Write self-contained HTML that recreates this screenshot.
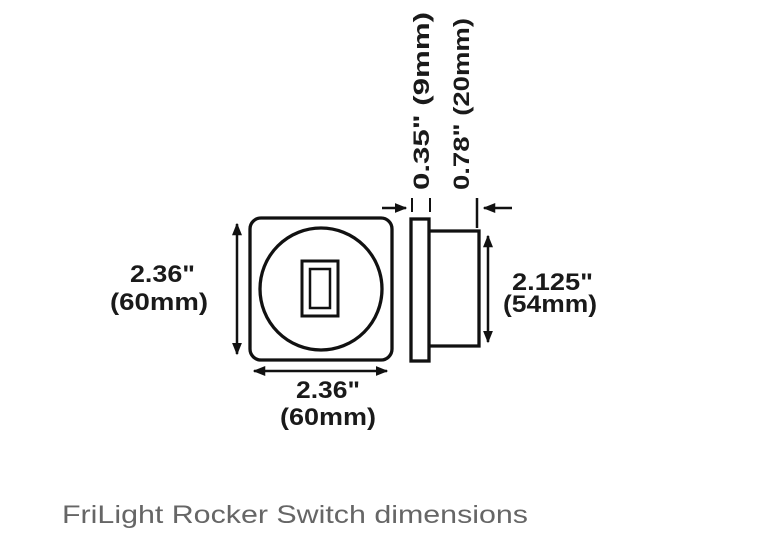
<!DOCTYPE html>
<html><head><style>
html,body{margin:0;padding:0;background:#fff;}
svg{display:block;}
</style></head><body>
<svg width="770" height="546" viewBox="0 0 770 546" xmlns="http://www.w3.org/2000/svg">
<defs>
<marker id="ah" viewBox="0 0 10 10" refX="9" refY="5" markerWidth="5" markerHeight="5" orient="auto-start-reverse" markerUnits="strokeWidth"><path d="M0,1 L10,5 L0,9 Z" fill="#111"/></marker>
</defs>
<g stroke="#111" fill="none" stroke-width="3.3">
<rect x="250" y="218" width="142" height="142" rx="11"/>
<circle cx="321" cy="289" r="61"/>
<rect x="302" y="261" width="36" height="55" stroke-width="3"/>
<rect x="310" y="269" width="20" height="39" stroke-width="2.5"/>
<rect x="411" y="219" width="18" height="142"/>
<path d="M429 231 H479 V346 H429"/>
</g>
<g stroke="#111" stroke-width="2.5" fill="none">
<line x1="237" y1="224" x2="237" y2="354" marker-start="url(#ah)" marker-end="url(#ah)"/>
<line x1="254" y1="371" x2="387" y2="371" marker-start="url(#ah)" marker-end="url(#ah)"/>
<line x1="488" y1="236" x2="488" y2="342" marker-start="url(#ah)" marker-end="url(#ah)"/>
<line x1="382" y1="208" x2="406" y2="208" marker-end="url(#ah)"/>
<line x1="512" y1="208" x2="484" y2="208" marker-end="url(#ah)"/>
<line x1="412" y1="198" x2="412" y2="212" stroke-width="2"/>
<line x1="430" y1="198" x2="430" y2="212" stroke-width="2"/>
<line x1="477" y1="198" x2="477" y2="228" stroke-width="2.5"/>
</g>
<g font-family="Liberation Sans, sans-serif" font-weight="bold" fill="#1a1a1a" font-size="24">
<text x="130" y="282" textLength="65" lengthAdjust="spacingAndGlyphs">2.36"</text>
<text x="110" y="310" textLength="98" lengthAdjust="spacingAndGlyphs">(60mm)</text>
<text x="296" y="398" textLength="64" lengthAdjust="spacingAndGlyphs">2.36"</text>
<text x="280" y="425" textLength="96" lengthAdjust="spacingAndGlyphs">(60mm)</text>
<text x="512" y="290" textLength="81" lengthAdjust="spacingAndGlyphs">2.125"</text>
<text x="503" y="312" textLength="94" lengthAdjust="spacingAndGlyphs">(54mm)</text>
<text transform="translate(429,190) rotate(-90)" font-size="22" textLength="178" lengthAdjust="spacingAndGlyphs">0.35" (9mm)</text>
<text transform="translate(469,190) rotate(-90)" font-size="22" textLength="172" lengthAdjust="spacingAndGlyphs">0.78" (20mm)</text>
</g>
<text x="62" y="523" font-family="Liberation Sans, sans-serif" font-size="25" fill="#666" textLength="466" lengthAdjust="spacingAndGlyphs">FriLight Rocker Switch dimensions</text>
</svg>
</body></html>
